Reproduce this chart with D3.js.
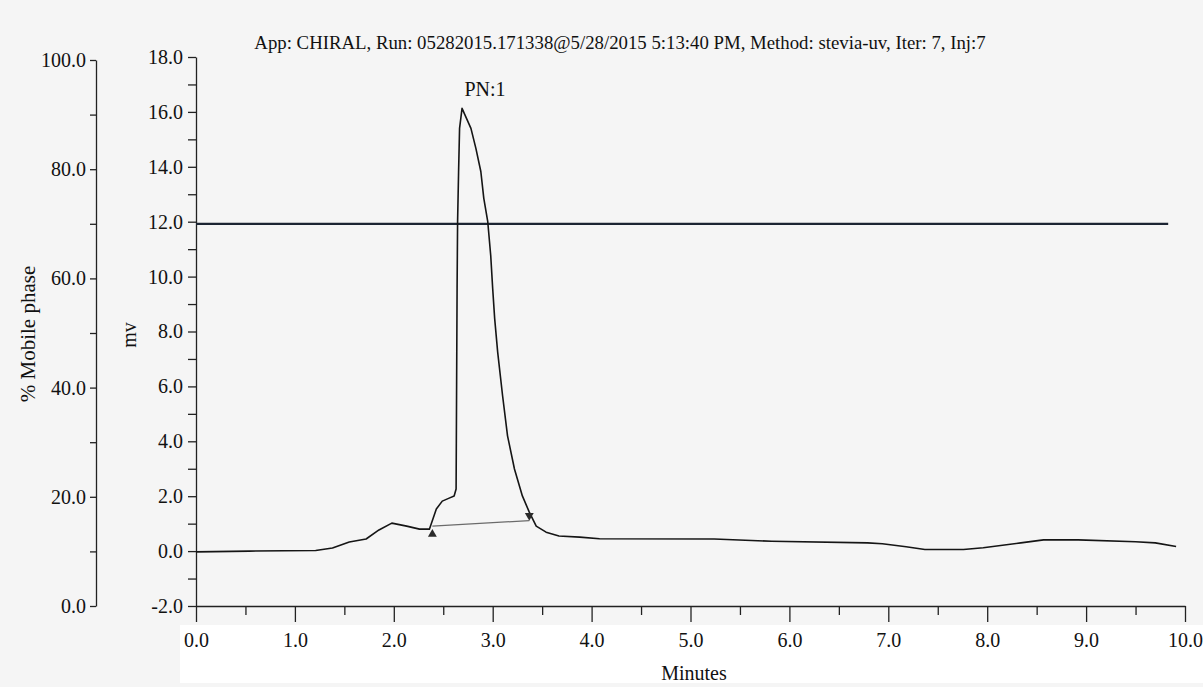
<!DOCTYPE html>
<html>
<head>
<meta charset="utf-8">
<script src="https://cdn.jsdelivr.net/npm/d3@7"></script>
<style>
  html, body { margin: 0; padding: 0; background: #f5f5f5; }
  svg { display: block; }
  text { font-family: "Liberation Serif", "Times New Roman", serif; fill: #111; }
  .axis path, .axis line { stroke: #222; stroke-width: 1.3; }
  .axis text { font-size: 20px; fill: #111; }
</style>
</head>
<body>
<div id="chart"></div>
<script>
  // chromatogram trace (minutes / mV)
  var timeMin = [0, 0.54, 1.21, 1.38, 1.55, 1.72, 1.85, 1.98, 2.13, 2.26, 2.36, 2.43, 2.49, 2.56, 2.61,
    2.63, 2.64, 2.645, 2.655, 2.665, 2.69, 2.78, 2.83, 2.88, 2.91, 2.95, 2.98, 3.00, 3.02, 3.05,
    3.10, 3.15, 3.22, 3.30, 3.37, 3.44, 3.54, 3.67, 3.88, 4.08, 5.24, 5.82, 6.79, 6.94, 7.18,
    7.37, 7.76, 7.96, 8.34, 8.57, 8.92, 9.50, 9.70, 9.91];
  var signalMv = [-0.03, 0.0, 0.02, 0.11, 0.33, 0.44, 0.77, 1.02, 0.91, 0.80, 0.80, 1.53, 1.82, 1.93, 2.01,
    2.26, 9.6, 12.0, 13.8, 15.4, 16.13, 15.4, 14.67, 13.83, 12.85, 12.0, 10.77, 9.56, 8.47, 7.26,
    5.66, 4.20, 2.99, 2.01, 1.42, 0.91, 0.69, 0.55, 0.51, 0.45, 0.44, 0.36, 0.30, 0.27, 0.16,
    0.06, 0.06, 0.12, 0.30, 0.41, 0.41, 0.34, 0.30, 0.17];

  // integration baseline under peak 1
  var baselineTime = [2.39, 3.37];
  var baselineMv = [0.91, 1.11];

  // % mobile phase program
  var phaseTime = [0, 9.83];
  var phasePct = [70, 70];

  var minuteTicks = [0, 1, 2, 3, 4, 5, 6, 7, 8, 9, 10];
  var mvTicks = [-2, 0, 2, 4, 6, 8, 10, 12, 14, 16, 18];
  var phaseTicks = [0, 20, 40, 60, 80, 100];
  var peakName = 'PN:1';
  var title = 'App: CHIRAL, Run: 05282015.171338@5/28/2015 5:13:40 PM, Method: stevia-uv, Iter: 7, Inj:7';

  var width = 1203;
  var height = 687;
  // plain hyphen for negatives, like the instrument printout
  var fmt = function (d) { return d.toFixed(1); };

  var svg = d3.select('#chart').append('svg')
    .attr('width', width)
    .attr('height', height);

  svg.append('rect')
    .attr('x', 0).attr('y', 0)
    .attr('width', width).attr('height', height)
    .attr('fill', '#f5f5f5');

  // white strip behind the minute labels
  svg.append('rect')
    .attr('x', 180).attr('y', 625)
    .attr('width', width - 180).attr('height', 58)
    .attr('fill', '#ffffff');

  var x = d3.scaleLinear().domain([0, 10]).range([196, 1185]);
  var yMv = d3.scaleLinear().domain([-2, 18]).range([606, 57]);
  var yPhase = d3.scaleLinear().domain([0, 100]).range([606, 60]);

  /* x axis: major + half-minute minor ticks */
  svg.append('g')
    .attr('class', 'axis')
    .attr('transform', 'translate(0,' + yMv(-2) + ')')
    .call(d3.axisBottom(x).tickValues(d3.range(0.5, 10, 1)).tickSize(9).tickFormat(''))
    .call(function (g) { g.select('.domain').remove(); });

  svg.append('g')
    .attr('class', 'axis')
    .attr('transform', 'translate(0,' + yMv(-2) + ')')
    .call(d3.axisBottom(x).tickValues(minuteTicks).tickSize(16).tickSizeOuter(0).tickPadding(11).tickFormat(fmt));

  /* mV axis */
  svg.append('g')
    .attr('class', 'axis')
    .attr('transform', 'translate(' + x(0) + ',0)')
    .call(d3.axisLeft(yMv).tickValues(d3.range(-1, 18, 2)).tickSize(8).tickFormat(''))
    .call(function (g) { g.select('.domain').remove(); });

  svg.append('g')
    .attr('class', 'axis')
    .attr('transform', 'translate(' + x(0) + ',0)')
    .call(d3.axisLeft(yMv).tickValues(mvTicks).tickSize(8).tickSizeOuter(0).tickPadding(5).tickFormat(fmt));

  /* % mobile phase axis */
  var phaseX = 96;
  svg.append('g')
    .attr('class', 'axis')
    .attr('transform', 'translate(' + phaseX + ',0)')
    .call(d3.axisLeft(yPhase).tickValues(d3.range(10, 100, 20)).tickSize(6).tickFormat(''))
    .call(function (g) { g.select('.domain').remove(); });

  svg.append('g')
    .attr('class', 'axis')
    .attr('transform', 'translate(' + phaseX + ',0)')
    .call(d3.axisLeft(yPhase).tickValues(phaseTicks).tickSize(6).tickSizeOuter(0).tickPadding(4).tickFormat(fmt));

  /* axis titles */
  svg.append('text')
    .attr('transform', 'translate(35,' + 334 + ') rotate(-90)')
    .attr('text-anchor', 'middle')
    .style('font-size', '21px')
    .text('% Mobile phase');

  svg.append('text')
    .attr('transform', 'translate(136,' + 335 + ') rotate(-90)')
    .attr('text-anchor', 'middle')
    .style('font-size', '20px')
    .text('mv');

  svg.append('text')
    .attr('x', 694)
    .attr('y', 680)
    .attr('text-anchor', 'middle')
    .style('font-size', '20px')
    .text('Minutes');

  svg.append('text')
    .attr('x', 620)
    .attr('y', 49)
    .attr('text-anchor', 'middle')
    .style('font-size', '18.8px')
    .text(title);

  /* mobile phase line */
  var phaseData = phaseTime.map(function (t, i) { return { t: t, v: phasePct[i] }; });
  svg.append('path')
    .datum(phaseData)
    .attr('fill', 'none')
    .attr('stroke', '#1c2533')
    .attr('stroke-width', 2.2)
    .attr('d', d3.line().x(function (d) { return x(d.t); }).y(function (d) { return yPhase(d.v); }));

  /* baseline */
  var baseData = baselineTime.map(function (t, i) { return { t: t, v: baselineMv[i] }; });
  svg.append('path')
    .datum(baseData)
    .attr('fill', 'none')
    .attr('stroke', '#6b6b6b')
    .attr('stroke-width', 1.3)
    .attr('d', d3.line().x(function (d) { return x(d.t); }).y(function (d) { return yMv(d.v); }));

  /* trace */
  var trace = timeMin.map(function (t, i) { return { t: t, v: signalMv[i] }; });
  svg.append('path')
    .datum(trace)
    .attr('fill', 'none')
    .attr('stroke', '#151515')
    .attr('stroke-width', 1.6)
    .attr('stroke-linejoin', 'round')
    .attr('d', d3.line().x(function (d) { return x(d.t); }).y(function (d) { return yMv(d.v); }));

  /* start / end markers of the integration */
  var tri = d3.symbol().type(d3.symbolTriangle).size(34);
  svg.append('path')
    .attr('d', tri)
    .attr('fill', '#2a2a2a')
    .attr('transform', 'translate(' + x(baselineTime[0]) + ',' + (yMv(baselineMv[0]) + 8) + ')');
  svg.append('path')
    .attr('d', tri)
    .attr('fill', '#2a2a2a')
    .attr('transform', 'translate(' + x(baselineTime[1]) + ',' + (yMv(baselineMv[1]) - 5) + ') rotate(180)');

  /* peak label */
  var peakIdx = d3.maxIndex(signalMv);
  svg.append('text')
    .attr('x', x(timeMin[peakIdx]) + 23)
    .attr('y', yMv(signalMv[peakIdx]) - 12)
    .attr('text-anchor', 'middle')
    .style('font-size', '20px')
    .text(peakName);
</script>
</body>
</html>
